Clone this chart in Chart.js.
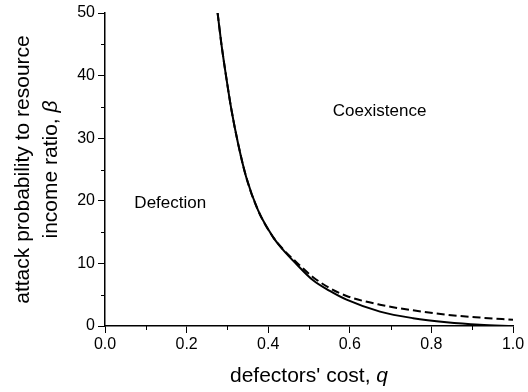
<!DOCTYPE html>
<html>
<head>
<meta charset="utf-8">
<script src="https://cdn.jsdelivr.net/npm/chart.js@4/dist/chart.umd.min.js"></script>
<style>
  html, body { margin: 0; padding: 0; background: #fff; }
  #wrap { width: 528px; height: 392px; }
</style>
</head>
<body>
<div id="wrap"><canvas id="phaseChart" width="528" height="392"></canvas></div>
<script>
// ===== DATA =====
const costQ = [0.276, 0.285, 0.297, 0.31, 0.326, 0.346, 0.375, 0.412, 0.436, 0.469, 0.51, 0.551, 0.592, 0.674, 0.755, 0.837, 0.919, 1.0];
const betaSolid = [50, 45.2, 39.8, 34.5, 29.2, 23.8, 18.5, 14.2, 12.2, 9.9, 7.3, 5.6, 4.2, 2.3, 1.25, 0.6, 0.2, 0];
const betaDashed = [50, 45.2, 39.8, 34.5, 29.2, 23.8, 18.5, 14.2, 12.3, 10.2, 7.8, 6.05, 4.8, 3.4, 2.5, 1.8, 1.35, 1.0];
const xTicks = [0, 0.2, 0.4, 0.6, 0.8, 1.0];
const yTicks = [0, 10, 20, 30, 40, 50];
const xMinor = [0.1, 0.3, 0.5, 0.7, 0.9];
const yMinor = [5, 15, 25, 35, 45];
const regionLabels = [
    { text: 'Defection', q: 0.16, beta: 19.6 },
    { text: 'Coexistence', q: 0.673, beta: 34.3 }
];

const FONT = '"Liberation Sans", Arial, sans-serif';

function toPoints(xs, ys) {
    return xs.map((x, i) => ({ x: x, y: ys[i] }));
}

// draws text with one italic symbol at the end, starting at x
function mixedText(ctx, plain, symbol, x, y, size) {
    ctx.font = size + 'px ' + FONT;
    const w = ctx.measureText(plain).width;
    ctx.fillText(plain, x, y);
    ctx.font = 'italic ' + size + 'px ' + FONT;
    ctx.fillText(symbol, x + w, y);
}

function mixedWidth(ctx, plain, symbol, size) {
    ctx.font = size + 'px ' + FONT;
    const w = ctx.measureText(plain).width;
    ctx.font = 'italic ' + size + 'px ' + FONT;
    return w + ctx.measureText(symbol).width;
}

// minor ticks, region names and the axis titles
const annotations = {
    id: 'annotations',
    afterDraw(chart) {
        const ctx = chart.ctx;
        const xs = chart.scales.x;
        const ys = chart.scales.y;
        const area = chart.chartArea;

        ctx.save();
        ctx.strokeStyle = '#000';
        ctx.lineWidth = 1;
        ctx.beginPath();
        xMinor.forEach(v => {
            const px = Math.round(xs.getPixelForValue(v)) + 0.5;
            ctx.moveTo(px, area.bottom);
            ctx.lineTo(px, area.bottom + 4);
        });
        yMinor.forEach(v => {
            const py = Math.round(ys.getPixelForValue(v)) + 0.5;
            ctx.moveTo(area.left, py);
            ctx.lineTo(area.left - 4, py);
        });
        ctx.stroke();

        ctx.fillStyle = '#000';
        ctx.font = '17px ' + FONT;
        ctx.textAlign = 'center';
        ctx.textBaseline = 'middle';
        regionLabels.forEach(l => {
            ctx.fillText(l.text, xs.getPixelForValue(l.q), ys.getPixelForValue(l.beta));
        });

        ctx.textAlign = 'left';
        ctx.textBaseline = 'alphabetic';

        // x title
        const xw = mixedWidth(ctx, "defectors' cost, ", 'q', 21);
        mixedText(ctx, "defectors' cost, ", 'q', (area.left + area.right) / 2 - xw / 2, 382, 21);

        // y title, two rotated lines
        ctx.translate(0, (area.top + area.bottom) / 2);
        ctx.rotate(-Math.PI / 2);
        ctx.font = '21px ' + FONT;
        ctx.textAlign = 'center';
        ctx.fillText('attack probability to resource', 0, 29);
        ctx.textAlign = 'left';
        const yw = mixedWidth(ctx, 'income ratio, ', '\u03b2', 21);
        mixedText(ctx, 'income ratio, ', '\u03b2', -yw / 2, 57, 21);
        ctx.restore();
    }
};

new Chart(document.getElementById('phaseChart'), {
    type: 'scatter',
    data: {
        datasets: [
            {
                data: toPoints(costQ, betaSolid),
                showLine: true,
                borderColor: '#000',
                borderWidth: 2,
                pointRadius: 0,
                cubicInterpolationMode: 'monotone'
            },
            {
                data: toPoints(costQ, betaDashed),
                showLine: true,
                borderColor: '#000',
                borderWidth: 2,
                borderDash: [8, 4],
                pointRadius: 0,
                cubicInterpolationMode: 'monotone'
            }
        ]
    },
    options: {
        responsive: false,
        animation: false,
        layout: { padding: { top: 13, right: 15, left: 0, bottom: 0 } },
        plugins: { legend: { display: false }, tooltip: { enabled: false } },
        scales: {
            x: {
                type: 'linear',
                min: 0,
                max: 1,
                afterFit(s) { s.height = 66; },
                afterBuildTicks(s) { s.ticks = xTicks.map(v => ({ value: v })); },
                ticks: {
                    color: '#000',
                    font: { family: FONT, size: 16 },
                    padding: 2,
                    maxRotation: 0,
                    callback: v => v.toFixed(1)
                },
                grid: { drawOnChartArea: false, color: '#000', tickLength: 7, tickWidth: 1 },
                border: { color: '#000', width: 1.5 }
            },
            y: {
                type: 'linear',
                min: 0,
                max: 50,
                afterFit(s) { s.width = 105; },
                afterBuildTicks(s) { s.ticks = yTicks.map(v => ({ value: v })); },
                ticks: {
                    color: '#000',
                    font: { family: FONT, size: 16 },
                    padding: 3
                },
                grid: { drawOnChartArea: false, color: '#000', tickLength: 7, tickWidth: 1 },
                border: { color: '#000', width: 1.5 }
            }
        }
    },
    plugins: [annotations]
});
</script>
</body>
</html>
